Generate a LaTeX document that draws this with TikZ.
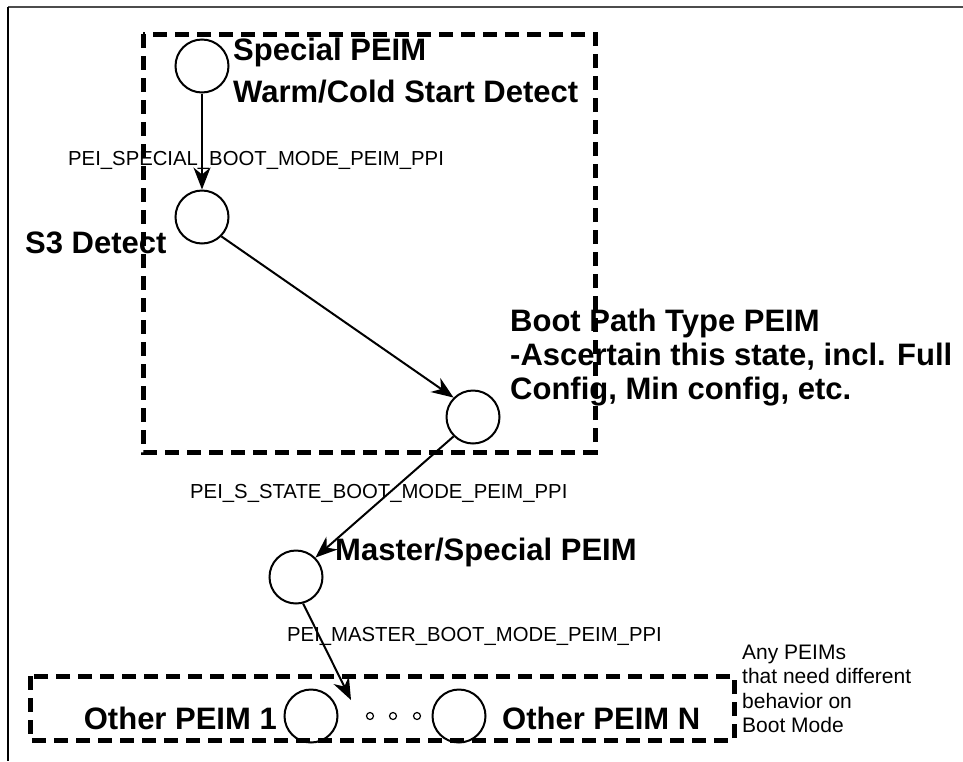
\documentclass[tikz,border=0pt]{standalone}
\usepackage{fontspec}
\setmainfont{Liberation Sans}
\usetikzlibrary{arrows.meta, positioning}

\begin{document}
\begin{tikzpicture}[x=1pt, y=-1pt, >={Stealth[length=22pt, width=17pt, inset=7pt]},
  peim/.style={circle, draw, line width=2pt, minimum size=53pt, inner sep=0pt},
  dotpeim/.style={circle, draw, line width=1.2pt, minimum size=7pt, inner sep=0pt},
  bigtext/.style={font=\fontsize{31}{42}\selectfont\bfseries, inner sep=0pt, align=left},
  ppi/.style={font=\fontsize{20.3}{25}\selectfont, inner sep=0pt, align=left},
  group/.style={draw, line width=5pt, dash pattern=on 14pt off 8pt},
  conn/.style={->, line width=2pt}]
  \useasboundingbox (0,0) rectangle (963,761);
  \draw[line width=2pt, black!70] (8,7) -- (963,7);
  \draw[line width=2pt] (8,7) -- (8,761);
  \draw[group] (143,34) rectangle (595,452);
  \draw[group] (30,676) rectangle (734,740);
  \node[peim] (special) at (202,66) {};
  \node[peim] (s3) at (202,217) {};
  \node[peim] (bootpath) at (473,417) {};
  \node[peim] (master) at (296,577) {};
  \node[peim] (other1) at (311,716) {};
  \node[peim] (otherN) at (459,716) {};
  \node[dotpeim] (dotA) at (370,716) {};
  \node[dotpeim] (dotB) at (393,716) {};
  \node[dotpeim] (dotC) at (417,716) {};
  \coordinate (othertop) at (351,700);
  \node[bigtext, anchor=west] (speciallbl) at (233,71) {Special PEIM\\Warm/Cold Start Detect};
  \node[bigtext, anchor=west] (s3lbl) at (25,243) {S3 Detect};
  \node[bigtext, anchor=west, font=\fontsize{31}{34}\selectfont\bfseries] (bootlbl) at (510,358)
    {Boot Path Type PEIM\\-Ascertain this state, incl. Full\\Config, Min config, etc.};
  \node[bigtext, anchor=west] (masterlbl) at (335,552) {Master/Special PEIM};
  \node[bigtext, anchor=east] (other1lbl) at (277,718) {Other PEIM 1};
  \node[bigtext, anchor=west] (otherNlbl) at (502,718) {Other PEIM N};
  \node[ppi, anchor=west, font=\fontsize{21}{24.5}\selectfont] (note) at (742,689) {Any PEIMs\\that need different\\behavior on\\Boot Mode};
  \node[ppi, anchor=west] (specialppi) at (68,160) {PEI\_SPECIAL\_BOOT\_MODE\_PEIM\_PPI};
  \node[ppi, anchor=west] (stateppi) at (190,493) {PEI\_S\_STATE\_BOOT\_MODE\_PEIM\_PPI};
  \node[ppi, anchor=west] (masterppi) at (287,636) {PEI\_MASTER\_BOOT\_MODE\_PEIM\_PPI};
  \draw[conn] (special) -- (s3);
  \draw[conn] (s3.-45) -- (bootpath.135);
  \draw[conn] (bootpath.225) -- (master.45);
  \draw[conn] (master.-75) -- (othertop);
\end{tikzpicture}
\end{document}
